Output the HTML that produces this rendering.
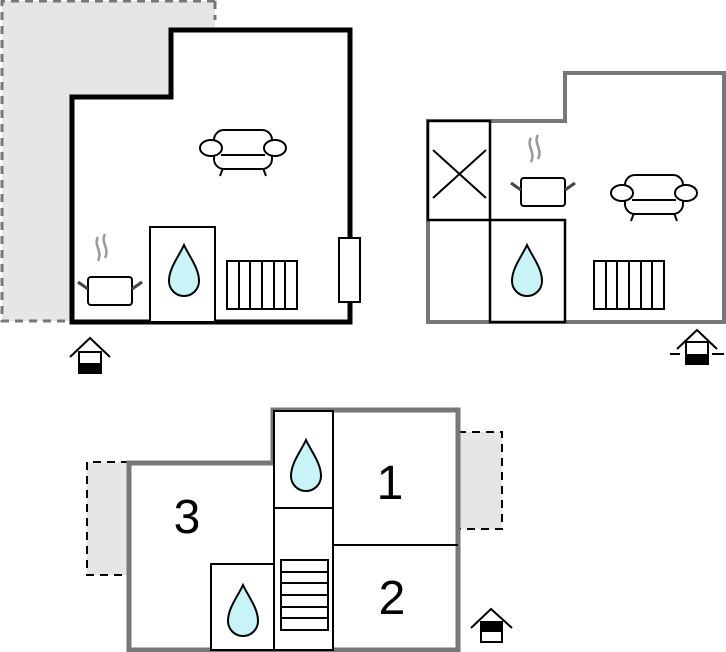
<!DOCTYPE html>
<html><head><style>html,body{margin:0;padding:0;background:#fff}svg{display:block}</style></head>
<body>
<svg width="726" height="652" viewBox="0 0 726 652" xmlns="http://www.w3.org/2000/svg">
<defs>
<g id="drop"><path d="M0,-26 C5,-15 15,-3 15,10 A15,15 0 0 1 -15,10 C-15,-3 -5,-15 0,-26 Z" fill="#c8f4f8" stroke="#000" stroke-width="2"/></g>
<g id="sofa" fill="#fff" stroke="#000" stroke-width="2">
<line x1="-20" y1="20" x2="-23" y2="28"/><line x1="20" y1="20" x2="23" y2="28"/>
<rect x="-29" y="-18" width="58" height="39" rx="10"/>
<line x1="-22" y1="7" x2="22" y2="7"/>
<ellipse cx="-32" cy="0" rx="11" ry="8"/><ellipse cx="32" cy="0" rx="11" ry="8"/>
</g>
<g id="rad" fill="#fff" stroke="#000" stroke-width="2">
<rect x="0" y="0" width="70" height="48"/>
<line x1="12" y1="0" x2="12" y2="48"/><line x1="23" y1="0" x2="23" y2="48"/><line x1="35" y1="0" x2="35" y2="48"/><line x1="47" y1="0" x2="47" y2="48"/><line x1="58" y1="0" x2="58" y2="48"/>
</g>
<g id="pot">
<path d="M10,-40 c-5,8 5,14 0,24 M17,-43 c-5,8 5,14 0,24" fill="none" stroke="#999" stroke-width="2.5"/>
<rect x="0" y="0" width="44" height="28" rx="3" fill="#fff" stroke="#000" stroke-width="2"/>
<line x1="0" y1="12" x2="-10" y2="5" stroke="#444" stroke-width="3"/>
<line x1="44" y1="12" x2="54" y2="5" stroke="#444" stroke-width="3"/>
</g>
</defs>

<!-- Plan 1 -->
<rect x="2" y="1" width="213" height="320" fill="#e6e6e6"/>
<path d="M215,1 H2 V321 H70 M215,1 V20" fill="none" stroke="#777" stroke-width="3" stroke-dasharray="8,6"/>
<path d="M72,97 H171 V30 H350 V322 H72 Z" fill="#fff" stroke="#000" stroke-width="5"/>
<rect x="150" y="227" width="65" height="95" fill="#fff" stroke="#000" stroke-width="2"/>
<use href="#drop" transform="translate(184,271)"/>
<use href="#sofa" transform="translate(243,148)"/>
<use href="#rad" transform="translate(227,261)"/>
<use href="#pot" transform="translate(88,277)"/>
<rect x="339" y="238" width="21" height="64" fill="#fff" stroke="#000" stroke-width="2"/>
<g stroke="#000" stroke-width="2" fill="#fff"><path d="M70,357 L90,338 L110,357"/><rect x="79" y="352" width="22" height="21"/></g>
<rect x="79" y="363" width="22" height="10" fill="#000"/>

<!-- Plan 2 -->
<path d="M428,121 H565 V73 H724 V322 H428 Z" fill="#fff" stroke="#777" stroke-width="4"/>
<rect x="428" y="121" width="62" height="99" fill="#fff" stroke="#000" stroke-width="2.5"/>
<path d="M433,150 L486,198 M486,150 L433,198" stroke="#000" stroke-width="2"/>
<rect x="490" y="220" width="75" height="102" fill="#fff" stroke="#000" stroke-width="2.5"/>
<use href="#drop" transform="translate(527,271)"/>
<use href="#pot" transform="translate(521,178)"/>
<use href="#sofa" transform="translate(654,193)"/>
<use href="#rad" transform="translate(594,261)"/>
<g stroke="#000" stroke-width="2" fill="#fff"><path d="M677,349 L697,330 L717,349"/><rect x="686" y="342" width="22" height="22"/><path d="M670,354 H680 M712,354 H724"/></g>
<rect x="686" y="354" width="22" height="10" fill="#000"/>

<!-- Plan 3 -->
<rect x="87" y="462" width="42" height="113" fill="#e6e6e6"/>
<path d="M129,462 H87 V575 H129" fill="none" stroke="#000" stroke-width="2" stroke-dasharray="8,6"/>
<rect x="458" y="432" width="44" height="97" fill="#e6e6e6"/>
<path d="M458,432 H502 V529 H458" fill="none" stroke="#000" stroke-width="2" stroke-dasharray="8,6"/>
<path d="M129,463 H273 V410 H458 V650 H129 Z" fill="#fff" stroke="#777" stroke-width="5"/>
<rect x="274" y="411" width="59" height="97" fill="#fff" stroke="#000" stroke-width="2"/>
<rect x="274" y="508" width="59" height="142" fill="#fff" stroke="#000" stroke-width="2"/>
<rect x="211" y="564" width="63" height="86" fill="#fff" stroke="#000" stroke-width="2"/>
<line x1="333" y1="545" x2="458" y2="545" stroke="#000" stroke-width="2"/>
<g fill="#fff" stroke="#000" stroke-width="2"><rect x="281" y="560" width="47" height="70"/>
<path d="M281,572 H328 M281,583 H328 M281,595 H328 M281,607 H328 M281,618 H328"/></g>
<use href="#drop" transform="translate(306,466)"/>
<use href="#drop" transform="translate(243,611)"/>
<g font-family="Liberation Sans, sans-serif" font-size="48" fill="#000" text-anchor="middle">
<text x="187" y="533">3</text><text x="390" y="499">1</text><text x="392" y="614">2</text></g>
<g stroke="#000" stroke-width="2" fill="#fff"><path d="M471,628 L491,609 L512,628"/><rect x="481" y="622" width="21" height="20"/></g>
<rect x="481" y="622" width="21" height="10" fill="#000"/>
</svg>
</body></html>
